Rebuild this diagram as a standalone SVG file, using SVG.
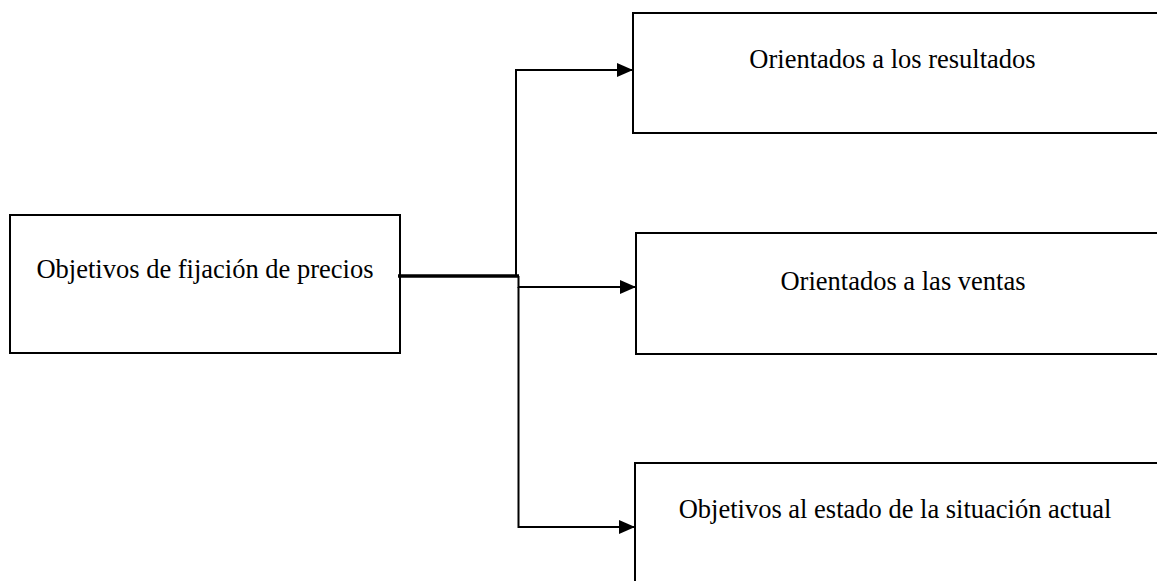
<svg xmlns="http://www.w3.org/2000/svg" width="1157" height="581" viewBox="0 0 1157 581">
<style>
.box{fill:#fff;stroke:#000;stroke-width:2}
.lbl{font-family:"Liberation Serif","Times New Roman",serif;font-size:26.5px;fill:#000;text-anchor:middle}
.c{fill:none;stroke:#000;stroke-width:2}
</style>
<defs>
<marker id="ah" markerUnits="userSpaceOnUse" markerWidth="16" markerHeight="14" refX="16" refY="7" orient="auto">
<path d="M0,0 L16,7 L0,14 Z" fill="#000"/>
</marker>
</defs>
<rect width="1157" height="581" fill="#fff"/>
<g id="n-main">
<rect class="box" x="10" y="215" width="390" height="138"/>
<text class="lbl" x="205" y="278">Objetivos de fijación de precios</text>
</g>
<g id="n-resultados">
<rect class="box" x="633" y="13" width="540" height="120"/>
<text class="lbl" x="892.5" y="68">Orientados a los resultados</text>
</g>
<g id="n-ventas">
<rect class="box" x="636" y="233" width="540" height="121"/>
<text class="lbl" x="903" y="290">Orientados a las ventas</text>
</g>
<g id="n-situacion">
<rect class="box" x="635" y="463" width="540" height="140"/>
<text class="lbl" x="895" y="518">Objetivos al estado de la situación actual</text>
</g>
<g id="connectors">
<line x1="398" y1="276" x2="519" y2="276" stroke="#000" stroke-width="3.5"/>
<polyline class="c" points="516,277 516,70 633,70" marker-end="url(#ah)"/>
<polyline class="c" points="518.5,276 518.5,287 636,287" marker-end="url(#ah)"/>
<polyline class="c" points="518.5,287 518.5,527 635,527" marker-end="url(#ah)"/>
</g>
</svg>
